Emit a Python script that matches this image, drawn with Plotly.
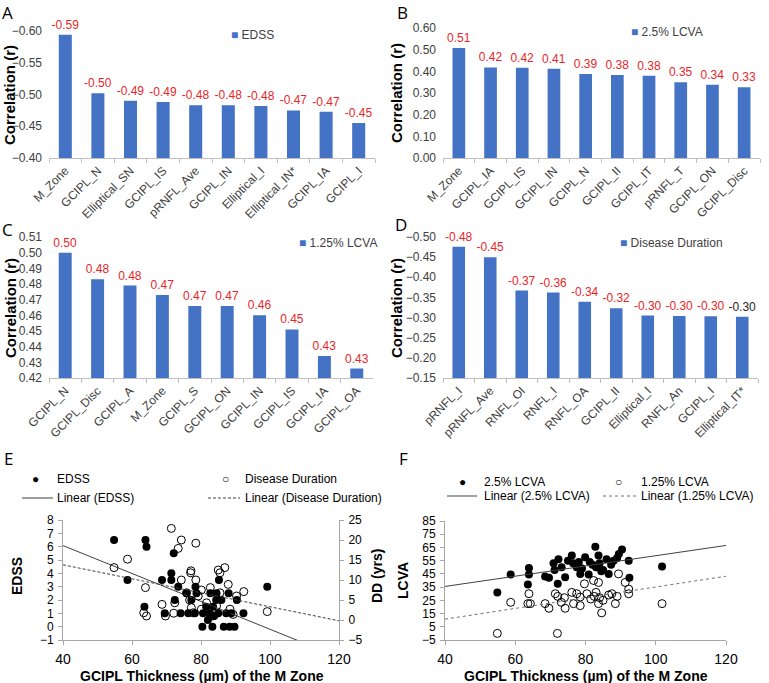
import numpy as np
import plotly.graph_objects as go

W, H = 769, 683
FONT = "Liberation Sans, Arial, sans-serif"
BLUE = "#4472C4"
RED = "#E8262A"
AXIS_GREY = "#BFBFBF"
TICK_COL = "#404040"

# ---------------- Panel A : EDSS ----------------
a_cats = ["M_Zone", "GCIPL_N", "Elliptical_SN", "GCIPL_IS", "pRNFL_Ave", "GCIPL_IN",
          "Elliptical_I", "Elliptical_IN*", "GCIPL_IA", "GCIPL_I"]
a_vals = [-0.594, -0.502, -0.490, -0.488, -0.483, -0.483, -0.482, -0.475, -0.473, -0.455]
a_labels = ["-0.59", "-0.50", "-0.49", "-0.49", "-0.48", "-0.48", "-0.48", "-0.47", "-0.47", "-0.45"]

# ---------------- Panel B : 2.5% LCVA ----------------
b_cats = ["M_Zone", "GCIPL_IA", "GCIPL_IS", "GCIPL_IN", "GCIPL_N", "GCIPL_II",
          "GCIPL_IT", "pRNFL_T", "GCIPL_ON", "GCIPL_Disc"]
b_vals = [0.508, 0.418, 0.416, 0.412, 0.388, 0.383, 0.380, 0.350, 0.338, 0.327]
b_labels = ["0.51", "0.42", "0.42", "0.41", "0.39", "0.38", "0.38", "0.35", "0.34", "0.33"]

# ---------------- Panel C : 1.25% LCVA ----------------
c_cats = ["GCIPL_N", "GCIPL_Disc", "GCIPL_A", "M_Zone", "GCIPL_S", "GCIPL_ON",
          "GCIPL_IN", "GCIPL_IS", "GCIPL_IA", "GCIPL_OA"]
c_vals = [0.500, 0.483, 0.479, 0.473, 0.466, 0.466, 0.460, 0.451, 0.434, 0.426]
c_labels = ["0.50", "0.48", "0.48", "0.47", "0.47", "0.47", "0.46", "0.45", "0.43", "0.43"]

# ---------------- Panel D : Disease Duration ----------------
d_cats = ["pRNFL_I", "pRNFL_Ave", "RNFL_OI", "RNFL_I", "RNFL_OA", "GCIPL_II",
          "Elliptical_I", "RNFL_An", "GCIPL_I", "Elliptical_IT*"]
d_vals = [-0.476, -0.450, -0.367, -0.362, -0.339, -0.323, -0.305, -0.304, -0.303, -0.302]
d_labels = ["-0.48", "-0.45", "-0.37", "-0.36", "-0.34", "-0.32", "-0.30", "-0.30", "-0.30", "-0.30"]
d_label_colors = [RED] * 9 + ["#262626"]

# ---------------- Panel E : scatter EDSS / Disease duration ----------------
e_edss_x = [54.8, 58.7, 63.6, 63.9, 64.2, 68.7, 69.5, 71.4, 71.4, 72.1, 72.4, 73.4, 74.1, 75.8,
            76.3, 77.2, 78.2, 78.4, 78.7, 80.4, 80.6, 81.5, 82.0, 82.5, 82.7, 83.3, 83.5, 83.8,
            84.4, 84.5, 85.0, 85.2, 85.9, 86.6, 87.3, 88.0, 88.3, 88.8, 89.7, 90.4, 92.3, 99.2]
e_edss_y = [6.5, 3.5, 1.5, 6.5, 6.0, 3.5, 1.0, 4.0, 3.5, 5.5, 2.0, 3.0, 1.0, 2.5,
            1.0, 2.0, 1.0, 3.0, 2.5, 0.0, 1.0, 1.5, 0.5, 1.0, 2.5, 0.0, 1.5, 0.8,
            2.0, 2.5, 1.0, 3.5, 2.0, 0.0, 1.0, 2.5, 0.0, 1.0, 0.0, 2.0, 1.0, 3.0]
e_dd_x = [54.8, 58.7, 63.9, 63.4, 64.2, 68.7, 69.7, 72.1, 72.4, 74.3, 77.0, 78.5, 75.8, 76.7,
          77.2, 79.2, 80.1, 82.7, 81.6, 84.5, 85.5, 86.9, 87.9, 85.5, 90.3, 92.4, 99.2, 88.4,
          89.3, 83.5, 77.7, 80.1, 71.4, 74.3, 73.4, 78.5, 77.1, 85.0]
e_dd_y = [13.1, 15.2, 8.1, 1.8, 1.0, 3.9, 1.0, 1.7, 4.3, 10.0, 11.8, 10.0, 6.8, 5.0,
          3.1, 6.0, 7.5, 8.1, 4.3, 3.5, 11.8, 13.1, 8.9, 6.8, 6.0, 7.1, 2.1, 2.7,
          1.4, 1.0, 1.8, 2.7, 22.9, 20.0, 17.9, 19.2, 12.3, 12.5]
# linear trend lines (value at x=40 and slope)
e_edss_fit = (6.08, -0.1046)
e_dd_fit = (13.8, -0.175)

# ---------------- Panel F : scatter LCVA ----------------
f_25_x = [54.9, 58.7, 63.6, 63.9, 63.9, 68.5, 69.6, 70.9, 71.2, 72.1, 72.3, 73.2, 74.2, 76.1,
          76.5, 77.5, 78.1, 78.5, 79.9, 80.9, 81.2, 82.8, 83.0, 83.7, 84.0, 85.0, 86.0, 86.6,
          87.3, 88.0, 89.0, 89.5, 90.4, 92.3, 92.5, 101.8, 75.0, 79.0, 82.0, 84.5]
f_25_y = [31, 44.5, 37, 44.5, 49.5, 43, 42, 53, 48, 37.5, 56, 50, 42.5, 59,
          53, 50, 54, 45, 57.5, 44.5, 54, 65.5, 50, 59, 53, 48, 56, 45,
          52, 55, 57, 60, 63.5, 55, 42, 50.5, 55, 49, 52, 47]
f_125_x = [54.9, 72.0, 58.7, 63.6, 63.9, 64.3, 68.5, 69.6, 71.4, 72.1, 73.1, 74.2, 74.0, 76.1,
           76.6, 77.5, 78.5, 78.5, 79.7, 80.4, 81.5, 82.3, 83.0, 83.7, 83.7, 84.6, 85.0, 86.6,
           87.5, 88.5, 89.0, 89.4, 91.3, 92.3, 92.3, 101.8, 82.5, 84.0]
f_125_y = [0, 0, 23.5, 22.5, 30, 22.5, 22.5, 19, 30, 28, 23.5, 19, 27, 31,
           22.5, 30, 21, 27.5, 37.5, 30, 26, 40, 31, 38.5, 22.5, 15.5, 25, 29,
           30, 22.5, 28, 45, 38.5, 33.5, 30, 22.5, 28, 27]
f_25_fit = (35.5, 0.3875)
f_125_fit = (10.75, 0.406)

x_range = [40, 120]


def px(x):
    return x / W


def py(y):
    return 1 - y / H


fig = go.Figure()

bar_panels = [
    (a_cats, a_vals, a_labels, RED, "x", "y", (49, 375), (31, 158), [-0.40, -0.60], 0.05, ".2f"),
    (b_cats, b_vals, b_labels, RED, "x2", "y2", (443, 760), (28, 158), [0.0, 0.60], 0.10, ".2f"),
    (c_cats, c_vals, c_labels, RED, "x3", "y3", (49, 373), (237, 378), [0.42, 0.51], 0.01, ".2f"),
    (d_cats, d_vals, d_labels, d_label_colors, "x4", "y4", (443, 758), (237, 378), [-0.15, -0.50], 0.05, ".2f"),
]

layout_axes = {}
for cats, vals, labels, tcol, xa, ya, xd, yd, rng, dt, fmt in bar_panels:
    fig.add_trace(go.Bar(
        x=cats, y=vals, text=labels, textposition="outside",
        textfont=dict(color=tcol, size=12, family=FONT),
        cliponaxis=False, constraintext="none",
        marker=dict(color=BLUE, line=dict(width=0)), width=0.4,
        xaxis=xa, yaxis=ya, showlegend=False, hoverinfo="x+y"))
    xk = "xaxis" + xa[1:]
    yk = "yaxis" + ya[1:]
    layout_axes[xk] = dict(
        domain=[px(xd[0]), px(xd[1])], anchor=ya, type="category", automargin=False,
        tickangle=-45, tickfont=dict(size=12, color=TICK_COL, family=FONT),
        showline=True, linecolor=AXIS_GREY, linewidth=1,
        ticks="outside", tickson="boundaries", ticklen=4, tickcolor=AXIS_GREY,
        showgrid=False, zeroline=False, fixedrange=True)
    layout_axes[yk] = dict(
        domain=[py(yd[1]), py(yd[0])], anchor=xa, range=rng, dtick=dt, tick0=0,
        automargin=False, tickformat=fmt, showgrid=False, zeroline=False, showline=False,
        tickfont=dict(size=12, color=TICK_COL, family=FONT), ticks="",
        ticklabelstandoff=6, fixedrange=True)

# ---------- Panel E ----------
xfit = np.array(x_range, dtype=float)
fig.add_trace(go.Scatter(x=e_edss_x, y=e_edss_y, mode="markers",
                         marker=dict(color="black", size=8, line=dict(width=0)),
                         xaxis="x5", yaxis="y5", showlegend=False, name="EDSS"))
fig.add_trace(go.Scatter(x=xfit, y=e_edss_fit[0] + e_edss_fit[1] * (xfit - 40), mode="lines",
                         line=dict(color="#404040", width=1), xaxis="x5", yaxis="y5",
                         showlegend=False, name="Linear (EDSS)"))
fig.add_trace(go.Scatter(x=e_dd_x, y=e_dd_y, mode="markers",
                         marker=dict(symbol="circle-open", color="black", size=8, line=dict(width=1)),
                         xaxis="x5", yaxis="y6", showlegend=False, name="Disease Duration"))
fig.add_trace(go.Scatter(x=xfit, y=e_dd_fit[0] + e_dd_fit[1] * (xfit - 40), mode="lines",
                         line=dict(color="#404040", width=1, dash="3px,2px"), xaxis="x5", yaxis="y6",
                         showlegend=False, name="Linear (Disease Duration)"))

# ---------- Panel F ----------
fig.add_trace(go.Scatter(x=f_25_x, y=f_25_y, mode="markers",
                         marker=dict(color="black", size=8, line=dict(width=0)),
                         xaxis="x6", yaxis="y7", showlegend=False, name="2.5% LCVA"))
fig.add_trace(go.Scatter(x=f_125_x, y=f_125_y, mode="markers",
                         marker=dict(symbol="circle-open", color="black", size=8, line=dict(width=1)),
                         xaxis="x6", yaxis="y7", showlegend=False, name="1.25% LCVA"))
fig.add_trace(go.Scatter(x=xfit, y=f_25_fit[0] + f_25_fit[1] * (xfit - 40), mode="lines",
                         line=dict(color="#404040", width=1), xaxis="x6", yaxis="y7",
                         showlegend=False, name="Linear (2.5% LCVA)"))
fig.add_trace(go.Scatter(x=xfit, y=f_125_fit[0] + f_125_fit[1] * (xfit - 40), mode="lines",
                         line=dict(color="#707070", width=1, dash="dot"), xaxis="x6", yaxis="y7",
                         showlegend=False, name="Linear (1.25% LCVA)"))

SC_GREY = "#A6A6A6"
sc_xtick = dict(size=14, color="black", family=FONT)
sc_ytick = dict(size=12, color="black", family=FONT)
common = dict(showline=True, linecolor=SC_GREY, ticks="outside", ticklen=4, tickcolor=SC_GREY,
              showgrid=False, zeroline=False, automargin=False, ticklabelstandoff=2)
layout_axes["xaxis5"] = dict(domain=[px(63), px(339)], anchor="y5", range=x_range, dtick=20,
                             tickfont=sc_xtick, **common)
layout_axes["yaxis5"] = dict(domain=[py(640), py(520)], anchor="x5", range=[-1, 8], dtick=1,
                             tickfont=sc_ytick, **common)
layout_axes["yaxis6"] = dict(overlaying="y5", side="right", anchor="x5", range=[-5, 25], dtick=5,
                             tickfont=sc_ytick, **common)
layout_axes["xaxis6"] = dict(domain=[px(445), px(726)], anchor="y7", range=x_range, dtick=20,
                             tickfont=sc_xtick, **common)
layout_axes["yaxis7"] = dict(domain=[py(640), py(521)], anchor="x6", range=[-5, 85], dtick=10,
                             tick0=-5, tickfont=sc_ytick, **common)

annotations = []


def ann(text, x, y, size=12, bold=False, angle=0, xanchor="left", color="black", family=FONT):
    if bold:
        text = "<b>" + text + "</b>"
    annotations.append(dict(text=text, x=px(x), y=py(y), xref="paper", yref="paper",
                            xanchor=xanchor, yanchor="middle", showarrow=False,
                            textangle=angle, font=dict(size=size, color=color, family=family)))


# panel letters
for letter, x, y in [("A", 0, 12), ("B", 395, 12), ("C", 0, 229), ("D", 393, 224),
                     ("E", 2, 458), ("F", 397, 458)]:
    ann(letter, x, y, size=17, family="Open Sans, Liberation Sans, sans-serif")

# y titles for bar charts
for x, y in [(10, 95), (396, 93), (10, 308), (396, 308)]:
    ann("Correlation (r)", x, y, size=15, bold=True, angle=-90, xanchor="center")

# bar legends
sq = "<span style='color:%s'>■</span> " % BLUE
ann(sq + "EDSS", 229, 35, size=12, color=TICK_COL)
ann(sq + "2.5% LCVA", 629, 32, size=12, color=TICK_COL)
ann(sq + "1.25% LCVA", 297, 243, size=12, color=TICK_COL)
ann(sq + "Disease Duration", 618, 243, size=12, color=TICK_COL)

# scatter titles
ann("EDSS", 17, 576, size=14, bold=True, angle=-90, xanchor="center")
ann("DD (yrs)", 377, 576, size=14, bold=True, angle=-90, xanchor="center")
ann("LCVA", 403, 581, size=14, bold=True, angle=-90, xanchor="center")
ann("GCIPL Thickness (µm) of the M Zone", 202, 676, size=14, bold=True, xanchor="center")
ann("GCIPL Thickness (µm) of the M Zone", 586, 676, size=14, bold=True, xanchor="center")

# scatter legends (E)
ann("●", 35, 479, size=12, xanchor="center")
ann("EDSS", 55, 479, size=12)
ann("○", 225, 479, size=12, xanchor="center")
ann("Disease Duration", 243, 479, size=12)
ann("Linear (EDSS)", 55, 498, size=12)
ann("Linear (Disease Duration)", 243, 498, size=12)
# scatter legends (F)
ann("●", 462, 482, size=12, xanchor="center")
ann("2.5% LCVA", 482, 482, size=12)
ann("○", 618, 482, size=12, xanchor="center")
ann("1.25% LCVA", 639, 482, size=12)
ann("Linear (2.5% LCVA)", 482, 496, size=12)
ann("Linear (1.25% LCVA)", 639, 496, size=12)

shapes = [
    dict(type="line", xref="paper", yref="paper", x0=px(22), x1=px(53), y0=py(498), y1=py(498),
         line=dict(color="#404040", width=1)),
    dict(type="line", xref="paper", yref="paper", x0=px(208), x1=px(240), y0=py(498), y1=py(498),
         line=dict(color="#404040", width=1, dash="3px,2px")),
    dict(type="line", xref="paper", yref="paper", x0=px(447), x1=px(477), y0=py(496), y1=py(496),
         line=dict(color="#404040", width=1)),
    dict(type="line", xref="paper", yref="paper", x0=px(603), x1=px(636), y0=py(496), y1=py(496),
         line=dict(color="#707070", width=1, dash="dot")),
]

fig.update_layout(
    width=W, height=H, margin=dict(l=0, r=0, t=0, b=0),
    paper_bgcolor="white", plot_bgcolor="white",
    font=dict(family=FONT, size=12, color="black"),
    showlegend=False, annotations=annotations, shapes=shapes,
    **layout_axes)

fig.write_html("out.html", config={"displayModeBar": False},
               post_script="document.body.style.margin='0px';document.body.style.overflow='hidden';")
